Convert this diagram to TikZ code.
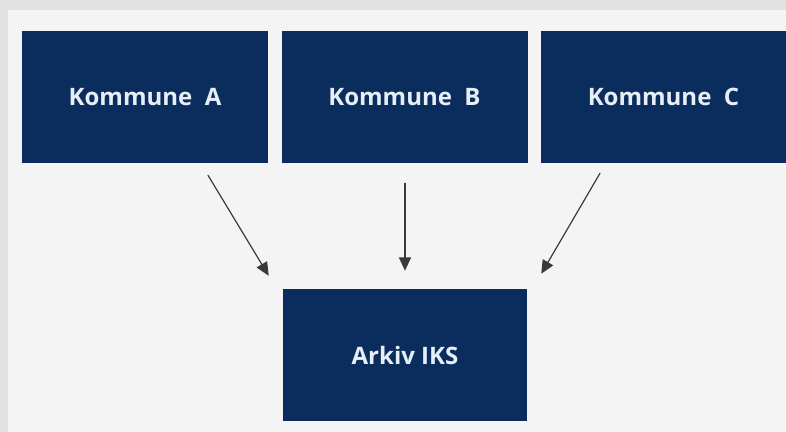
\documentclass[tikz,border=0pt]{standalone}
\usepackage{fontspec}
\setmainfont{Open Sans}
\usetikzlibrary{arrows.meta,calc,positioning}
\definecolor{frame}{HTML}{E1E1E1}
\definecolor{panel}{HTML}{F4F4F4}
\definecolor{navy}{HTML}{0B2D5E}
\definecolor{ink}{HTML}{3A3A3A}
\definecolor{txt}{HTML}{E6EEF6}
\tikzset{
  every picture/.style={line cap=round, line join=round},
  % Kaesten
  unit/.style={rectangle, fill=navy, text=txt, inner sep=0pt,
    minimum width=184.5pt, minimum height=99pt, font=\fontsize{18}{20}\selectfont\bfseries},
  % Pfeile
  flow/.style={ink, line width=0.9pt, -{Triangle[length=10pt,width=9pt]}},
}
\begin{document}
\begin{tikzpicture}[x=0.75pt, y=-0.75pt]
  % Hintergrund
  \fill[frame] (0,0) rectangle (786,432);
  \fill[panel] (8,10) rectangle (786,432);
  \useasboundingbox (0,0) rectangle (786,432);
  % Kommunen
  \node[unit] (ka) at (145,97) {Kommune\ \ A};
  \node[unit] (kb) at (404.5,97) {Kommune\ \ B};
  \node[unit, minimum width=183.75pt] (kc) at (663.5,97) {Kommune\ \ C};
  % Arkiv
  \node[unit, minimum width=183pt] (iks) at (405,355) {Arkiv IKS};
  % Pfeilenden
  \coordinate (a0) at ($(ka.south)+(63,12)$);
  \coordinate (a1) at ($(iks.north west)+(-14,-13)$);
  \coordinate (b0) at ($(kb.south)+(0.5,20)$);
  \coordinate (b1) at ($(iks.north)+(0,-18)$);
  \coordinate (c0) at ($(kc.south)+(-63.5,10)$);
  \coordinate (c1) at ($(iks.north east)+(14,-15)$);
  \draw[flow] (a0) -- (a1);
  \draw[flow] (b0) -- (b1);
  \draw[flow] (c0) -- (c1);
\end{tikzpicture}
\end{document}
